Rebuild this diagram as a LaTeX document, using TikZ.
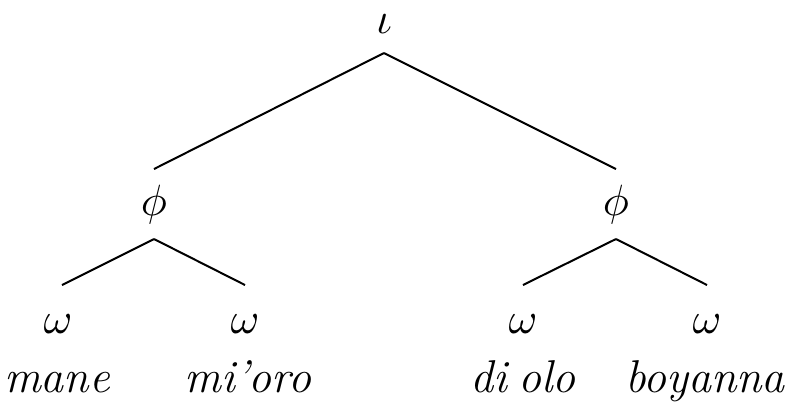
\documentclass[tikz,border=0pt]{standalone}
\usepackage{amsmath}
\usepackage{amssymb}
\usetikzlibrary{positioning, calc}

\begin{document}
\begin{tikzpicture}[x=0.25pt, y=-0.25pt,
    cat/.style={inner sep=0pt, font=\fontsize{10.5}{13}\selectfont},
    word/.style={inner sep=0pt, anchor=base, font=\fontsize{11.5}{14}\selectfont\itshape},
    branch/.style={line width=0.5pt}]
    \useasboundingbox (0, 0) rectangle (794, 411);

    % Intonational phrase
    \node[cat] (iota) at (384, 24) {$\iota$};

    % Phonological phrases
    \node[cat] (phiL) at (154, 205) {$\phi$};
    \node[cat] (phiR) at (616, 205) {$\phi$};

    % Prosodic words
    \node[cat] (w1) at (58, 324) {$\omega$};
    \node[cat] (w2) at (245, 324) {$\omega$};
    \node[cat] (w3) at (523, 324) {$\omega$};
    \node[cat] (w4) at (707, 324) {$\omega$};

    % Words
    \node[word] (mane) at (57, 392) {mane};
    \node[word] (mioro) at (248, 392) {mi'oro};
    \node[word] (diolo) at (523, 392) {di\hspace{0.25em}olo};
    \node[word] (boyanna) at (705, 392) {boyanna};

    % Branches
    \draw[branch] ([yshift=-7.25pt]iota.center) -- ([yshift=9pt]phiL.center);
    \draw[branch] ([yshift=-7.25pt]iota.center) -- ([yshift=9pt]phiR.center);
    \draw[branch] ([yshift=-8.5pt]phiL.center) -- ([xshift=1pt, yshift=9.75pt]w1.center);
    \draw[branch] ([yshift=-8.5pt]phiL.center) -- ([yshift=9.75pt]w2.center);
    \draw[branch] ([yshift=-8.5pt]phiR.center) -- ([yshift=9.75pt]w3.center);
    \draw[branch] ([yshift=-8.5pt]phiR.center) -- ([yshift=9.75pt]w4.center);
\end{tikzpicture}
\end{document}
